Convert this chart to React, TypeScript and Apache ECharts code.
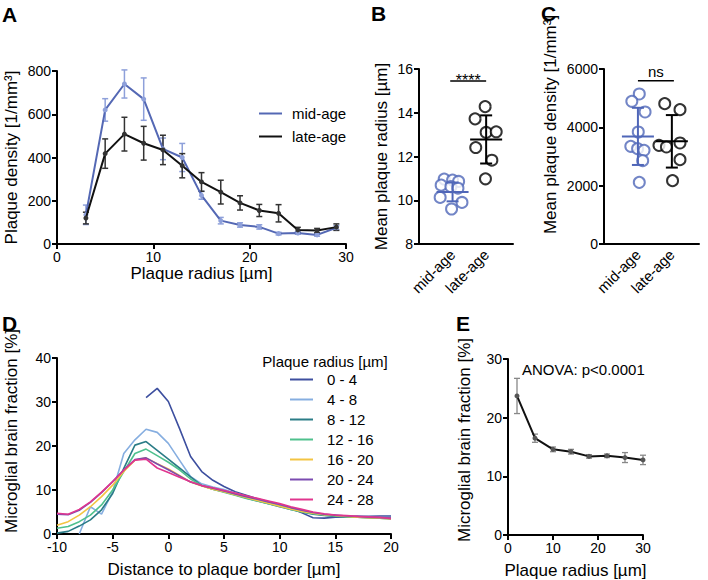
import React, { useEffect, useRef } from "react";
import * as echarts from "echarts";

const FONT = "'Liberation Sans', Arial, Helvetica, sans-serif";

// ---------- Panel A ----------
const radiusA = [3, 5, 7, 9, 11, 13, 15, 17, 19, 21, 23, 25, 27, 29];
const midAgeDensity = [135, 620, 740, 670, 440, 400, 225, 108, 88, 79, 48, 51, 42, 75];
const midAgeErr = [45, 52, 65, 98, 50, 65, 18, 15, 10, 10, 6, 6, 6, 10];
const lateAgeDensity = [120, 418, 508, 466, 435, 362, 287, 240, 190, 155, 142, 65, 62, 78];
const lateAgeErr = [27, 68, 78, 78, 68, 56, 43, 55, 33, 28, 40, 12, 10, 15];
const seriesNamesA = ["mid-age", "late-age"];

// ---------- Panel B ----------
const groupLabels = ["mid-age", "late-age"];
const midAgeRadius = [
  [0.75, 10.97], [1.0, 10.92], [1.18, 10.86], [0.66, 10.69], [0.95, 10.62],
  [1.16, 10.55], [0.63, 10.13], [1.28, 9.9], [0.97, 9.6],
];
const lateAgeRadius = [
  [1.97, 14.28], [1.67, 13.72], [2.0, 13.1], [2.3, 13.13], [1.69, 12.41], [2.17, 11.83], [1.98, 10.98],
];
const radiusMeanSd = [[1, 10.38, 0.43], [2, 12.78, 1.1]];
const radiusSig = [[0.93, 2.0, 15.45]];
const radiusSigLabel = ["****"];

// ---------- Panel C ----------
const midAgeDensityPts = [
  [1.04, 5143], [0.82, 4892], [1.21, 4526], [1.01, 3840], [0.79, 3349],
  [0.99, 3269], [1.18, 3212], [1.14, 2857], [1.04, 2114],
];
const lateAgeDensityPts = [
  [1.79, 4812], [2.24, 4606], [1.62, 3383], [1.84, 3326], [2.24, 3463], [2.24, 2892], [2.02, 2172],
];
const densityMeanSd = [[1, 3690, 980], [2, 3520, 900]];
const densitySig = [[1.0, 2.06, 5600]];
const densitySigLabel = ["ns"];

// ---------- Panel D ----------
const dDistance = [-10, -9, -8, -7, -6, -5, -4, -3, -2, -1, 0, 1, 2, 3, 4, 5, 6, 7, 8, 9, 10, 11, 12, 13, 14, 15, 16, 17, 18, 19, 20];
const dLabels = ["0 - 4", "4 - 8", "8 - 12", "12 - 16", "16 - 20", "20 - 24", "24 - 28"];
const d0_4 = [null, null, null, null, null, null, null, null, 31.0, 33.1, 30.1, 24.0, 17.6, 14.2, 12.2, 10.8, 9.6, 8.8, 8.0, 7.3, 6.6, 5.8, 4.8, 3.7, 3.6, 3.8, 3.9, 4.0, 4.0, 4.1, 4.1];
const d4_8 = [null, null, 0.0, 6.2, 4.5, 9.6, 18.3, 21.4, 23.8, 23.1, 20.6, 16.8, 13.0, 11.4, 10.7, 10.1, 9.3, 8.6, 7.9, 7.3, 6.6, 6.0, 5.3, 4.8, 4.4, 4.2, 4.0, 3.9, 3.8, 3.7, 3.6];
const d8_12 = [0.2, 0.6, 1.8, 3.2, 5.5, 9.2, 14.9, 20.2, 21.0, 19.0, 17.0, 15.0, 13.0, 11.0, 10.2, 9.6, 8.9, 8.2, 7.5, 6.9, 6.2, 5.6, 5.0, 4.5, 4.2, 4.0, 3.9, 3.8, 3.7, 3.6, 3.5];
const d12_16 = [1.3, 1.7, 2.8, 4.3, 6.6, 10.0, 14.2, 18.3, 19.3, 17.8, 16.3, 14.6, 12.5, 11.0, 10.2, 9.5, 8.8, 8.1, 7.5, 6.9, 6.3, 5.6, 5.0, 4.6, 4.3, 4.1, 3.9, 3.8, 3.7, 3.6, 3.5];
const d16_20 = [2.0, 2.8, 4.3, 6.2, 8.5, 11.1, 14.2, 16.8, 17.3, 16.0, 14.8, 13.3, 11.8, 10.9, 10.2, 9.6, 8.9, 8.3, 7.6, 7.0, 6.3, 5.7, 5.1, 4.7, 4.4, 4.2, 4.0, 3.8, 3.7, 3.6, 3.5];
const d20_24 = [4.5, 4.4, 5.4, 7.2, 9.4, 11.9, 14.6, 16.9, 17.3, 15.9, 14.6, 13.2, 11.8, 11.0, 10.4, 9.8, 9.1, 8.5, 7.9, 7.3, 6.7, 6.0, 5.4, 4.9, 4.5, 4.3, 4.1, 4.0, 3.8, 3.7, 3.6];
const d24_28 = [4.7, 4.5, 5.6, 7.3, 9.5, 11.9, 14.5, 16.8, 17.0, 15.0, 14.0, 12.9, 11.9, 11.0, 10.5, 9.9, 9.3, 8.7, 8.1, 7.5, 6.9, 6.2, 5.6, 5.0, 4.6, 4.3, 4.2, 4.0, 3.9, 3.8, 3.5];
const dValues = [d0_4, d4_8, d8_12, d12_16, d16_20, d20_24, d24_28];
const dColors = ["#3d4f9f", "#86aee0", "#2b7c87", "#4fc08d", "#f3c443", "#7b4bb0", "#e0368e"];

// ---------- Panel E ----------
const eRadius = [2, 6, 10, 14, 18, 22, 26, 30];
const eFraction = [23.7, 16.5, 14.6, 14.2, 13.4, 13.5, 13.2, 12.8];
const eErr = [3.0, 0.7, 0.4, 0.4, 0.3, 0.3, 0.85, 0.8];

const BLUE = "#5468b4";
const BLUE_LIGHT = "#8ea0da";
const BLUE_DOT = "#4f66b8";

function errorBarRender(color: string, cap: number, width: number) {
  return (params: any, api: any) => {
    const x = api.value(0);
    const y = api.value(1);
    const e = api.value(2);
    const hi = api.coord([x, y + e]);
    const lo = api.coord([x, y - e]);
    const style = { stroke: color, lineWidth: width };
    return {
      type: "group",
      children: [
        { type: "line", shape: { x1: hi[0], y1: hi[1], x2: lo[0], y2: lo[1] }, style },
        { type: "line", shape: { x1: hi[0] - cap, y1: hi[1], x2: hi[0] + cap, y2: hi[1] }, style },
        { type: "line", shape: { x1: lo[0] - cap, y1: lo[1], x2: lo[0] + cap, y2: lo[1] }, style },
      ],
    };
  };
}

function meanSdRender(colors: string[]) {
  return (params: any, api: any) => {
    const x = api.value(0);
    const m = api.value(1);
    const s = api.value(2);
    const c = api.coord([x, m]);
    const hi = api.coord([x, m + s]);
    const lo = api.coord([x, m - s]);
    const style = { stroke: colors[params.dataIndex], lineWidth: 2 };
    return {
      type: "group",
      children: [
        { type: "line", shape: { x1: c[0] - 16, y1: c[1], x2: c[0] + 16, y2: c[1] }, style },
        { type: "line", shape: { x1: hi[0], y1: hi[1], x2: lo[0], y2: lo[1] }, style },
        { type: "line", shape: { x1: hi[0] - 6, y1: hi[1], x2: hi[0] + 6, y2: hi[1] }, style },
        { type: "line", shape: { x1: lo[0] - 6, y1: lo[1], x2: lo[0] + 6, y2: lo[1] }, style },
      ],
    };
  };
}

function sigRender(labels: string[], fontSize: number, dy: number) {
  return (params: any, api: any) => {
    const a = api.coord([api.value(0), api.value(2)]);
    const b = api.coord([api.value(1), api.value(2)]);
    return {
      type: "group",
      children: [
        { type: "line", shape: { x1: a[0], y1: a[1], x2: b[0], y2: b[1] }, style: { stroke: "#000", lineWidth: 1.5 } },
        {
          type: "text",
          x: (a[0] + b[0]) / 2,
          y: a[1] + dy,
          style: {
            text: labels[params.dataIndex],
            fill: "#000",
            fontSize,
            fontFamily: FONT,
            align: "center",
            verticalAlign: "middle",
          },
        },
      ],
    };
  };
}

const axisStyle = {
  axisLine: { show: true, onZero: false, lineStyle: { color: "#000", width: 2 } },
  axisTick: { show: true, length: 5, lineStyle: { color: "#000", width: 2 } },
  splitLine: { show: false },
};
const labelStyle = { color: "#000", fontSize: 14, fontFamily: FONT, margin: 6, formatter: (v: number) => String(v) };
const nameStyle = { color: "#000", fontSize: 17, fontFamily: FONT };

function valueAxis(grid: number, min: number, max: number, interval: number, name: string, nameGap: number, extra: any = {}) {
  return {
    type: "value",
    gridIndex: grid,
    min,
    max,
    interval,
    name,
    nameLocation: "middle",
    nameGap,
    nameTextStyle: { ...nameStyle, ...(extra.nameTextStyle || {}) },
    ...axisStyle,
    axisLabel: { ...labelStyle, ...(extra.axisLabel || {}) },
  };
}

function groupAxis(grid: number) {
  return {
    type: "value",
    gridIndex: grid,
    min: 0,
    max: 2.8,
    interval: 1,
    ...axisStyle,
    axisTick: { show: false },
    axisLabel: {
      color: "#000",
      fontSize: 15,
      fontFamily: FONT,
      rotate: 45,
      margin: 8,
      formatter: (v: number) => (v === 1 ? groupLabels[0] : v === 2 ? groupLabels[1] : ""),
    },
  };
}

const zip = (xs: number[], ys: (number | null)[]) =>
  xs.map((x, i) => [x, ys[i]]).filter((p) => p[1] !== null);

const option: any = {
  animation: false,
  backgroundColor: "#fff",
  textStyle: { fontFamily: FONT },
  grid: [
    { left: 57, top: 71, width: 289, height: 173, outerBoundsMode: "none" },
    { left: 419, top: 69, width: 94, height: 175, outerBoundsMode: "none" },
    { left: 604, top: 69, width: 95, height: 175, outerBoundsMode: "none" },
    { left: 57, top: 358, width: 334, height: 176, outerBoundsMode: "none" },
    { left: 508, top: 359, width: 135, height: 176, outerBoundsMode: "none" },
  ],
  xAxis: [
    valueAxis(0, 0, 30, 10, "Plaque radius [µm]", 19),
    groupAxis(1),
    groupAxis(2),
    valueAxis(3, -10, 20, 5, "Distance to plaque border [µm]", 27),
    valueAxis(4, 0, 30, 10, "Plaque radius [µm]", 27),
  ],
  yAxis: [
    valueAxis(0, 0, 800, 200, "Plaque density [1/mm³]", 37),
    valueAxis(1, 8, 16, 2, "Mean plaque radius [µm]", 29),
    valueAxis(2, 0, 6000, 2000, "Mean plaque density [1/mm³]", 45, { nameTextStyle: { padding: [0, 0, 0, 64] } }),
    valueAxis(3, 0, 40, 10, "Microglial brain fraction [%]", 37, { nameTextStyle: { padding: [0, 0, 0, 30] } }),
    valueAxis(4, 0, 30, 10, "Microglial brain fraction [%]", 35, { nameTextStyle: { padding: [0, 0, 0, 14] } }),
  ],
  legend: [
    {
      data: [
        { name: seriesNamesA[0], itemStyle: { color: BLUE } },
        { name: seriesNamesA[1], itemStyle: { color: "#111" } },
      ],
      left: 259,
      top: 105,
      orient: "vertical",
      padding: 0,
      icon: "rect",
      itemWidth: 23,
      itemHeight: 2,
      itemGap: 6,
      selectedMode: false,
      textStyle: { color: "#000", fontSize: 15, fontFamily: FONT, lineHeight: 17, padding: [0, 0, 0, 5] },
    },
    {
      data: dLabels,
      left: 290,
      top: 371,
      orient: "vertical",
      padding: 0,
      icon: "rect",
      itemWidth: 23,
      itemHeight: 2,
      itemGap: 3,
      selectedMode: false,
      textStyle: { color: "#000", fontSize: 15, fontFamily: FONT, lineHeight: 17, padding: [0, 0, 0, 9] },
    },
  ],
  graphic: [
    { type: "text", x: 2, y: 4, style: { text: "A", font: `bold 21px ${FONT}`, fill: "#000" } },
    { type: "text", x: 371, y: 3, style: { text: "B", font: `bold 21px ${FONT}`, fill: "#000" } },
    { type: "text", x: 541, y: 3, style: { text: "C", font: `bold 21px ${FONT}`, fill: "#000" } },
    { type: "text", x: 2, y: 313, style: { text: "D", font: `bold 21px ${FONT}`, fill: "#000" } },
    { type: "text", x: 456, y: 313, style: { text: "E", font: `bold 21px ${FONT}`, fill: "#000" } },
    {
      type: "text",
      x: 325,
      y: 361,
      style: { text: "Plaque radius [µm]", font: `15px ${FONT}`, fill: "#000", align: "center", verticalAlign: "middle" },
    },
    {
      type: "text",
      x: 522,
      y: 369,
      style: { text: "ANOVA: p<0.0001", font: `15px ${FONT}`, fill: "#000", align: "left", verticalAlign: "middle" },
    },
  ],
  series: [
    // Panel A
    {
      type: "custom",
      name: "midErr",
      xAxisIndex: 0,
      yAxisIndex: 0,
      renderItem: errorBarRender(BLUE_LIGHT, 3, 1.5),
      data: radiusA.map((x, i) => [x, midAgeDensity[i], midAgeErr[i]]),
      encode: { x: 0, y: 1 },
      z: 2,
    },
    {
      type: "custom",
      name: "lateErr",
      xAxisIndex: 0,
      yAxisIndex: 0,
      renderItem: errorBarRender("#333", 3, 1.5),
      data: radiusA.map((x, i) => [x, lateAgeDensity[i], lateAgeErr[i]]),
      encode: { x: 0, y: 1 },
      z: 2,
    },
    {
      type: "line",
      name: seriesNamesA[0],
      xAxisIndex: 0,
      yAxisIndex: 0,
      data: zip(radiusA, midAgeDensity),
      symbol: "circle",
      symbolSize: 5,
      color: BLUE,
      itemStyle: { color: BLUE_LIGHT },
      lineStyle: { color: BLUE, width: 2 },
      z: 3,
    },
    {
      type: "line",
      name: seriesNamesA[1],
      xAxisIndex: 0,
      yAxisIndex: 0,
      data: zip(radiusA, lateAgeDensity),
      symbol: "circle",
      symbolSize: 5,
      color: "#111",
      itemStyle: { color: "#333" },
      lineStyle: { color: "#111", width: 2 },
      z: 4,
    },
    // Panel B
    {
      type: "scatter",
      name: "B mid",
      xAxisIndex: 1,
      yAxisIndex: 1,
      data: midAgeRadius,
      symbol: "emptyCircle",
      symbolSize: 11,
      itemStyle: { color: BLUE_DOT, borderColor: BLUE_DOT, borderWidth: 1.6 },
    },
    {
      type: "scatter",
      name: "B late",
      xAxisIndex: 1,
      yAxisIndex: 1,
      data: lateAgeRadius,
      symbol: "emptyCircle",
      symbolSize: 11,
      itemStyle: { color: "#000", borderColor: "#000", borderWidth: 1.6 },
    },
    {
      type: "custom",
      name: "B meanSd",
      xAxisIndex: 1,
      yAxisIndex: 1,
      renderItem: meanSdRender([BLUE_DOT, "#000"]),
      data: radiusMeanSd,
      encode: { x: 0, y: 1 },
      z: 5,
    },
    {
      type: "custom",
      name: "B sig",
      xAxisIndex: 1,
      yAxisIndex: 1,
      renderItem: sigRender(radiusSigLabel, 16, -1),
      data: radiusSig,
      encode: { x: 0, y: 2 },
    },
    // Panel C
    {
      type: "scatter",
      name: "C mid",
      xAxisIndex: 2,
      yAxisIndex: 2,
      data: midAgeDensityPts,
      symbol: "emptyCircle",
      symbolSize: 11,
      itemStyle: { color: BLUE_DOT, borderColor: BLUE_DOT, borderWidth: 1.6 },
    },
    {
      type: "scatter",
      name: "C late",
      xAxisIndex: 2,
      yAxisIndex: 2,
      data: lateAgeDensityPts,
      symbol: "emptyCircle",
      symbolSize: 11,
      itemStyle: { color: "#000", borderColor: "#000", borderWidth: 1.6 },
    },
    {
      type: "custom",
      name: "C meanSd",
      xAxisIndex: 2,
      yAxisIndex: 2,
      renderItem: meanSdRender([BLUE_DOT, "#000"]),
      data: densityMeanSd,
      encode: { x: 0, y: 1 },
      z: 5,
    },
    {
      type: "custom",
      name: "C sig",
      xAxisIndex: 2,
      yAxisIndex: 2,
      renderItem: sigRender(densitySigLabel, 15, -9),
      data: densitySig,
      encode: { x: 0, y: 2 },
    },
    // Panel D
    ...dLabels.map((name, k) => ({
      type: "line",
      name,
      xAxisIndex: 3,
      yAxisIndex: 3,
      data: zip(dDistance, dValues[k]),
      symbol: "none",
      color: dColors[k],
      lineStyle: { color: dColors[k], width: 1.6 },
      z: 2 + k,
    })),
    // Panel E
    {
      type: "custom",
      name: "E err",
      xAxisIndex: 4,
      yAxisIndex: 4,
      renderItem: errorBarRender("#888", 3, 1.3),
      data: eRadius.map((x, i) => [x, eFraction[i], eErr[i]]),
      encode: { x: 0, y: 1 },
      z: 2,
    },
    {
      type: "line",
      name: "E mean",
      xAxisIndex: 4,
      yAxisIndex: 4,
      data: zip(eRadius, eFraction),
      symbol: "circle",
      symbolSize: 5,
      itemStyle: { color: "#555" },
      lineStyle: { color: "#111", width: 2 },
      z: 3,
    },
  ],
};

export default function App() {
  const ref = useRef<HTMLDivElement>(null);
  useEffect(() => {
    if (!ref.current) return;
    const chart = echarts.init(ref.current, null, { renderer: "svg" });
    chart.setOption(option);
    return () => chart.dispose();
  }, []);
  return (
    <div
      ref={ref}
      style={{ position: "fixed", left: 0, top: 0, width: 708, height: 580, background: "#fff" }}
    />
  );
}
